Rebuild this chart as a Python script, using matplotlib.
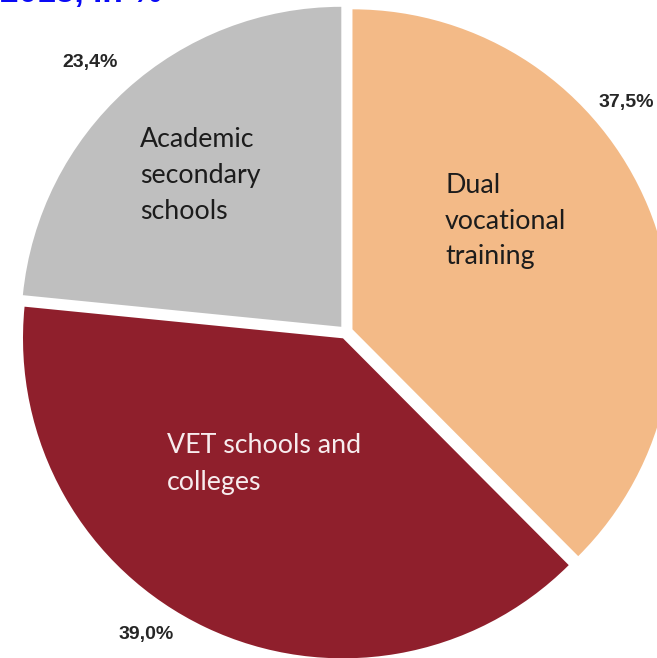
import matplotlib
matplotlib.use("Agg")
import matplotlib.pyplot as plt

# Data
categories = ["Dual vocational training", "VET schools and colleges", "Academic secondary schools"]
values = [37.5, 39.0, 23.4]
pct_labels = ["37,5%", "39,0%", "23,4%"]
colors = ["#F3BA87", "#8F1F2C", "#BFBFBF"]

W, H = 657, 658
fig = plt.figure(figsize=(W / 100, H / 100), dpi=100)
ax = fig.add_axes([0, 0, 1, 1])

def Y(y):
    return H - y

ax.pie(values, colors=colors, startangle=90, counterclock=False,
       center=(346, Y(332)), radius=320, explode=[7] * 3,
       wedgeprops=dict(linewidth=0))
ax.set_xlim(0, W)
ax.set_ylim(0, H)
ax.set_aspect("auto")
ax.axis("off")

inner_font = "Lato"
fs_in = 19.3
dark = "#1c1c1c"

# inner labels, line by line (left x, baselines)
blocks = [
    (["Dual", "vocational", "training"], 445, [193, 229, 264], dark),
    (["Academic", "secondary", "schools"], 140, [147, 183, 219], dark),
    (["VET schools and", "colleges"], 167, [453, 490], "#F7ECEE"),
]
for lines, x, ys, c in blocks:
    for ln, yb in zip(lines, ys):
        ax.text(x, Y(yb), ln, ha="left", va="baseline", fontsize=fs_in,
                family=inner_font, color=c)

# percentage labels
pct_pos = [(654, 103, "right"), (146, 635, "center"), (90, 63, "center")]
for lab, (x, y, ha) in zip(pct_labels, pct_pos):
    ax.text(x, Y(y), lab, ha=ha, va="center", fontsize=14,
            family="Liberation Sans", fontweight="bold", color="#262626")

# cut-off title at the very top (only its lower edge is visible in the reference)
ax.text(0, Y(2), "2015, in %", ha="left", va="baseline", fontsize=24,
        family="Liberation Sans", fontweight="bold", color="#0A0AF5")

fig.savefig("out.png", dpi=100)
